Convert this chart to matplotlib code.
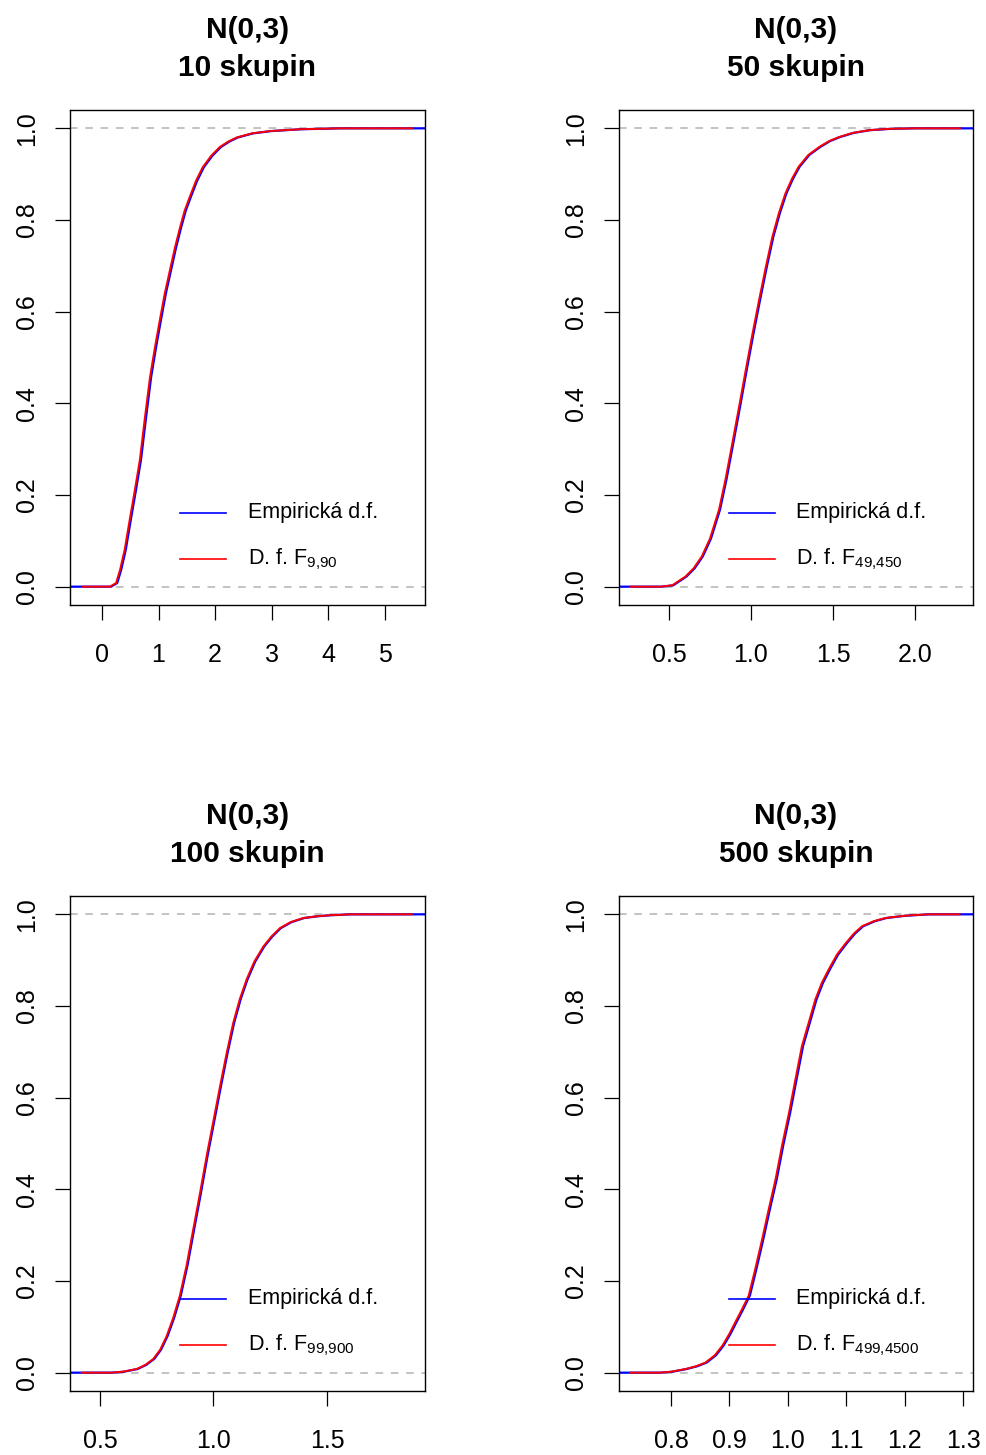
import matplotlib
matplotlib.use("Agg")
import matplotlib.pyplot as plt

plt.rcParams['font.family'] = ['Liberation Sans', 'DejaVu Sans']
plt.rcParams['mathtext.default'] = 'regular'

# titles / legend labels
titles = ["N(0,3)\n10 skupin", "N(0,3)\n50 skupin", "N(0,3)\n100 skupin", "N(0,3)\n500 skupin"]
df_labels = ["D. f. F$_{9{,}90}$", "D. f. F$_{49{,}450}$", "D. f. F$_{99{,}900}$", "D. f. F$_{499{,}4500}$"]
emp_label = "Empirická d.f."

# x ticks per panel
xticks = [[0, 1, 2, 3, 4, 5], [0.5, 1.0, 1.5, 2.0], [0.5, 1.0, 1.5], [0.8, 0.9, 1.0, 1.1, 1.2, 1.3]]
xlims = [(-0.565, 5.71), (0.195, 2.354), (0.368, 1.932), (0.711, 1.317)]
yticks = [0.0, 0.2, 0.4, 0.6, 0.8, 1.0]

# panel 1: F(9,90)
p1_x = [-0.34, 0.0, 0.14, 0.25, 0.32, 0.40, 0.49, 0.58, 0.67, 0.76, 0.85, 0.94, 1.02, 1.11, 1.20,
        1.29, 1.38, 1.46, 1.55, 1.66, 1.78, 1.93, 2.08, 2.23, 2.38, 2.65, 2.97, 3.5, 4.2, 5.48]
p1_emp_x = [-0.565, 0.02, 0.16, 0.27, 0.34, 0.42, 0.51, 0.60, 0.69, 0.78, 0.87, 0.96, 1.04, 1.13, 1.22,
            1.31, 1.40, 1.48, 1.57, 1.68, 1.80, 1.95, 2.10, 2.25, 2.40, 2.67, 2.99, 3.52, 4.22, 5.71]
p1_y = [0, 0, 0, 0.008, 0.037, 0.08, 0.146, 0.21, 0.277, 0.37, 0.458, 0.525, 0.58, 0.64, 0.69,
        0.74, 0.784, 0.82, 0.85, 0.885, 0.915, 0.94, 0.959, 0.971, 0.98, 0.989, 0.994, 0.998, 1.0, 1.0]

# panel 2: F(49,450)
p2_x = [0.268, 0.45, 0.52, 0.60, 0.65, 0.70, 0.75, 0.805, 0.845, 0.886, 0.927, 0.968, 1.008, 1.049, 1.09,
        1.13, 1.17, 1.21, 1.25, 1.29, 1.35, 1.415, 1.475, 1.537, 1.62, 1.72, 1.85, 2.0, 2.274]
p2_emp_x = [0.195, 0.456, 0.526, 0.606, 0.656, 0.706, 0.756, 0.811, 0.851, 0.892, 0.933, 0.974, 1.014, 1.055, 1.096,
            1.136, 1.176, 1.216, 1.256, 1.296, 1.356, 1.421, 1.481, 1.543, 1.626, 1.726, 1.856, 2.006, 2.354]
p2_y = [0, 0, 0.003, 0.022, 0.04, 0.066, 0.105, 0.168, 0.235, 0.313, 0.392, 0.473, 0.55, 0.625, 0.697,
        0.763, 0.815, 0.858, 0.89, 0.916, 0.942, 0.959, 0.972, 0.981, 0.99, 0.996, 0.999, 1.0, 1.0]

# panel 3: F(99,900)
p3_x = [0.42, 0.55, 0.60, 0.662, 0.70, 0.735, 0.765, 0.794, 0.823, 0.852, 0.882, 0.911, 0.94, 0.97, 1.0,
        1.029, 1.058, 1.087, 1.116, 1.146, 1.18, 1.22, 1.256, 1.293, 1.34, 1.396, 1.46, 1.513, 1.6, 1.874]
p3_emp_x = [0.368, 0.554, 0.604, 0.666, 0.704, 0.739, 0.769, 0.798, 0.827, 0.856, 0.886, 0.915, 0.944, 0.974, 1.004,
            1.033, 1.062, 1.091, 1.12, 1.15, 1.184, 1.224, 1.26, 1.297, 1.344, 1.4, 1.464, 1.517, 1.604, 1.932]
p3_y = [0, 0, 0.002, 0.008, 0.017, 0.03, 0.05, 0.08, 0.12, 0.168, 0.235, 0.313, 0.39, 0.473, 0.55,
        0.625, 0.697, 0.763, 0.815, 0.858, 0.897, 0.93, 0.952, 0.97, 0.983, 0.992, 0.996, 0.998, 1.0, 1.0]

# panel 4: F(499,4500)
p4_x = [0.731, 0.78, 0.80, 0.825, 0.843, 0.859, 0.875, 0.888, 0.90, 0.910, 0.921, 0.933, 0.944, 0.956, 0.967,
        0.979, 0.99, 1.002, 1.013, 1.024, 1.036, 1.047, 1.058, 1.07, 1.084, 1.099, 1.113, 1.127, 1.147, 1.167,
        1.2, 1.24, 1.294]
p4_emp_x = [0.711, 0.782, 0.802, 0.827, 0.845, 0.861, 0.877, 0.890, 0.902, 0.912, 0.923, 0.935, 0.946, 0.958, 0.969,
            0.981, 0.992, 1.004, 1.015, 1.026, 1.038, 1.049, 1.06, 1.072, 1.086, 1.101, 1.115, 1.129, 1.149, 1.169,
            1.202, 1.242, 1.317]
p4_y = [0, 0, 0.002, 0.008, 0.014, 0.022, 0.038, 0.059, 0.085, 0.11, 0.137, 0.168, 0.225, 0.291, 0.355,
        0.422, 0.495, 0.567, 0.64, 0.712, 0.765, 0.814, 0.85, 0.88, 0.912, 0.937, 0.958, 0.974, 0.985, 0.992,
        0.997, 1.0, 1.0]

theo = [(p1_x, p1_y), (p2_x, p2_y), (p3_x, p3_y), (p4_x, p4_y)]
emp = [(p1_emp_x, p1_y), (p2_emp_x, p2_y), (p3_emp_x, p3_y), (p4_emp_x, p4_y)]

fig = plt.figure(figsize=(9.86, 14.55), dpi=100)
W, H = 986, 1455
boxes = [(70, 110, 355, 495), (619, 110, 354, 495), (70, 896, 355, 495), (619, 896, 354, 495)]

for i, (bx, by, bw, bh) in enumerate(boxes):
    ax = fig.add_axes([bx / W, (H - by - bh) / H, bw / W, bh / H])
    ax.axhline(0, color='#b3b3b3', lw=1.1, ls=(0, (5, 5)), zorder=1)
    ax.axhline(1, color='#b3b3b3', lw=1.1, ls=(0, (5, 5)), zorder=1)
    ax.plot(emp[i][0], emp[i][1], color='blue', lw=1.6, zorder=2)
    ax.plot(theo[i][0], theo[i][1], color='red', lw=1.4, zorder=3)

    ax.set_xlim(*xlims[i])
    ax.set_ylim(-0.04, 1.04)
    ax.set_xticks(xticks[i])
    ax.set_xticklabels([str(t) if i == 0 else f"{t:.1f}" for t in xticks[i]])
    ax.set_yticks(yticks)
    ax.set_yticklabels([f"{t:.1f}" for t in yticks], rotation=90, va='center')
    ax.tick_params(length=11, width=0.9, labelsize=18, direction='out')
    ax.tick_params(axis='x', pad=16)
    ax.tick_params(axis='y', pad=11)
    for s in ax.spines.values():
        s.set_linewidth(1.0)

    # legend drawn by hand, R style (no box)
    ax.plot([0.31, 0.44], [0.186, 0.186], transform=ax.transAxes, color='blue', lw=1.2, zorder=5)
    ax.plot([0.31, 0.44], [0.093, 0.093], transform=ax.transAxes, color='red', lw=1.2, zorder=5)
    ax.text(0.50, 0.186, emp_label, transform=ax.transAxes, fontsize=15.5, va='center', ha='left')
    ax.text(0.50, 0.093, df_labels[i], transform=ax.transAxes, fontsize=15.5, va='center', ha='left')

    t1, t2 = titles[i].split("\n")
    ax.text(0.5, 1.162, t1, transform=ax.transAxes, fontsize=21.5, fontweight='bold', ha='center', va='center')
    ax.text(0.5, 1.085, t2, transform=ax.transAxes, fontsize=21.5, fontweight='bold', ha='center', va='center')

fig.savefig("out.png", dpi=100)
